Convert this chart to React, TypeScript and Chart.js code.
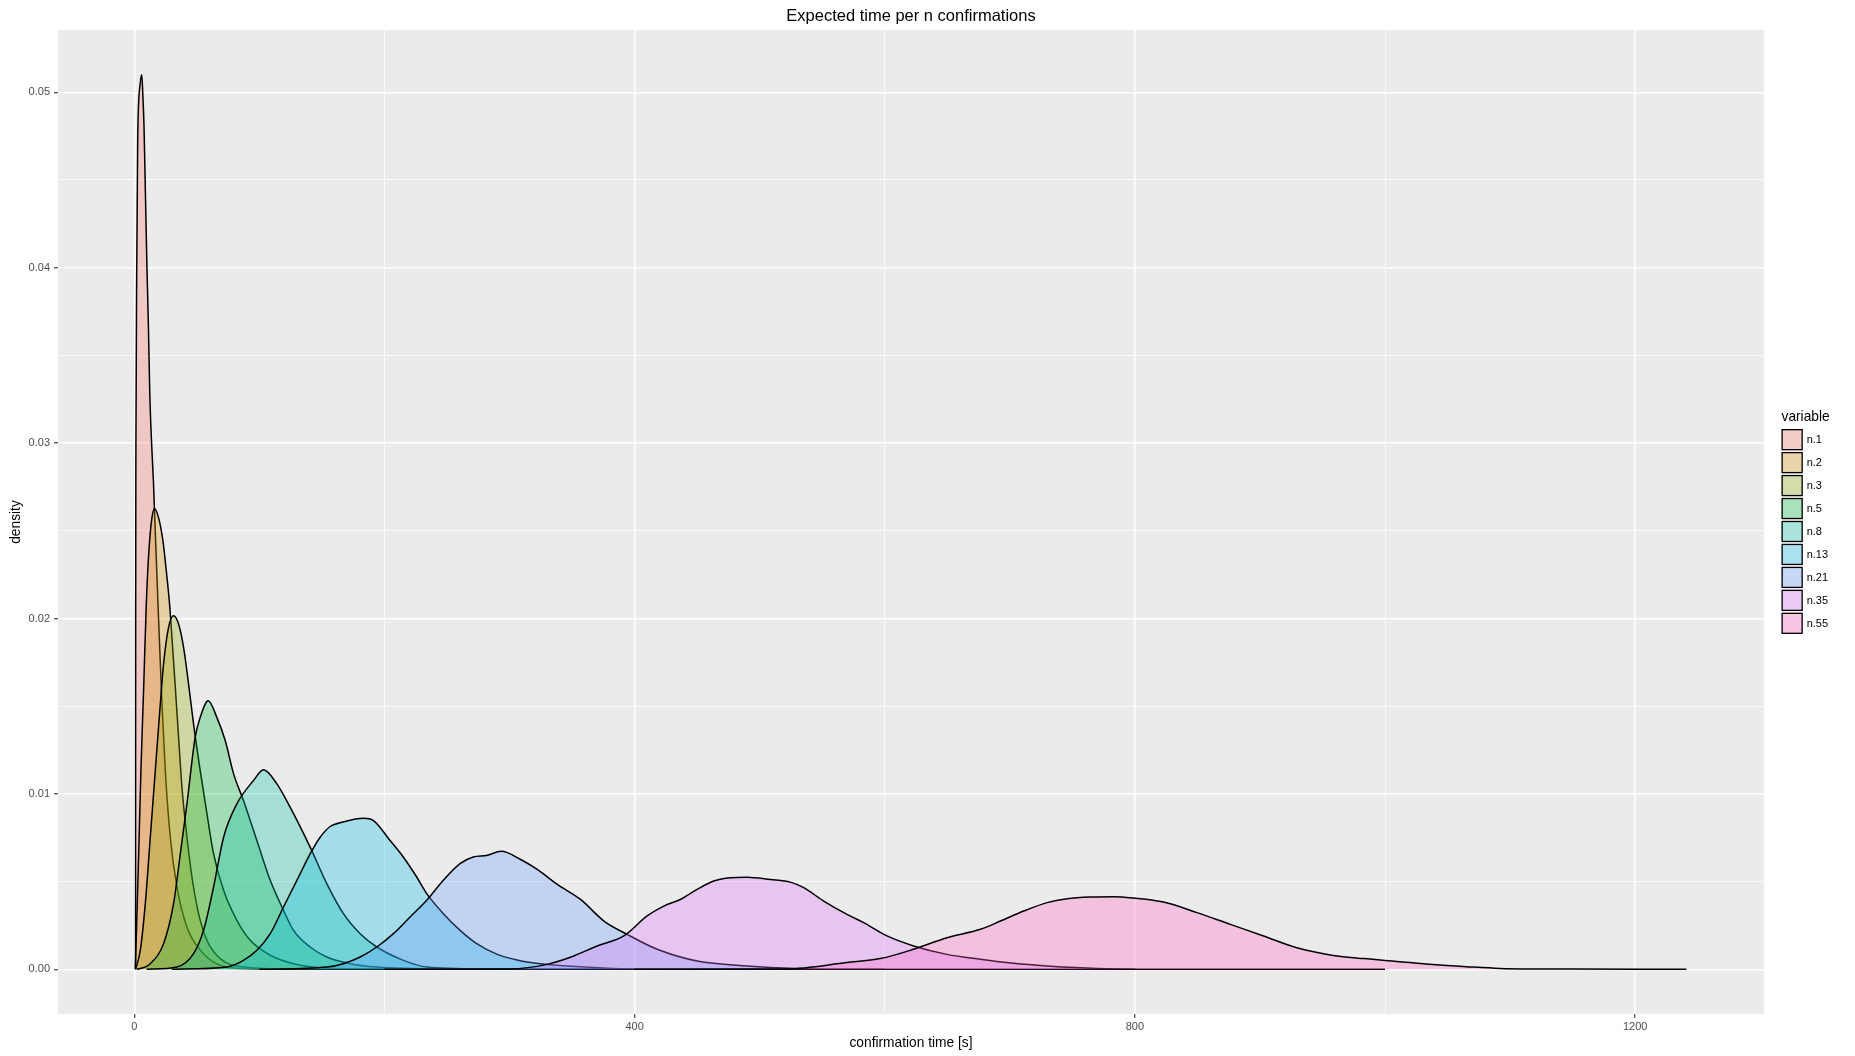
import React, { useEffect, useRef } from "react";
import { Chart, registerables } from "chart.js";

Chart.register(...registerables);

// ---- data ----
const seriesNames = ["n.1", "n.2", "n.3", "n.5", "n.8", "n.13", "n.21", "n.35", "n.55"];
const seriesColors = ["#F8766D", "#D39200", "#93AA00", "#00BA38", "#00C19F", "#00B9E3", "#619CFF", "#DB72FB", "#FF61C3"];

const n1X = [1.0, 1.1, 1.3, 2.0, 2.7, 3.2, 4.7, 6.0, 6.8, 7.8, 8.9, 10.0, 11.3, 12.4, 13.7, 15.3, 17.0, 19.4, 22.1, 24.8, 28.8, 34.1, 42.1, 52.7, 66, 87, 120, 200];
const n1Y = [0, 0.020, 0.030, 0.0404, 0.0470, 0.0489, 0.0505, 0.0510, 0.0499, 0.0480, 0.0442, 0.0404, 0.0366, 0.0328, 0.0302, 0.0278, 0.0245, 0.0200, 0.0152, 0.0113, 0.0075, 0.0047, 0.0024, 0.0011, 0.0003, 0.00004, 0, 0];

const n2X = [0.8, 1.6, 3.5, 5.3, 7.5, 9.6, 11.5, 14.1, 16.2, 19.4, 22.9, 25.6, 28.2, 30.1, 32.8, 35.4, 38.1, 42.1, 46.1, 51.4, 58.1, 68.7, 87.3, 120, 250];
const n2Y = [0, 0.00184, 0.00658, 0.01133, 0.01607, 0.02082, 0.02366, 0.02575, 0.02626, 0.02575, 0.02442, 0.02271, 0.02082, 0.01892, 0.01607, 0.01323, 0.01038, 0.00753, 0.00526, 0.00317, 0.00165, 0.00061, 0.00013, 0.00002, 0];

const n3X = [1, 4.8, 8.8, 12.8, 16.8, 20.8, 23.4, 27.4, 31.4, 35.4, 39.4, 43.4, 47.4, 52.7, 58.1, 63.4, 71.4, 82, 92.7, 108.7, 127.3, 160, 300];
const n3Y = [0, 0.00108, 0.00374, 0.00753, 0.01133, 0.01512, 0.0174, 0.01949, 0.02015, 0.01968, 0.01835, 0.01626, 0.01398, 0.01133, 0.00886, 0.00658, 0.0045, 0.00279, 0.00165, 0.0008, 0.00032, 0.00005, 0];

const n5X = [2, 4.8, 12.8, 23.4, 31.4, 36.8, 42.1, 48.7, 52.7, 59.1, 66, 72.7, 79.4, 87.3, 98, 108.7, 119.3, 127.3, 140.6, 153.9, 172.6, 193.9, 250, 400];
const n5Y = [0, 0.00004, 0.00032, 0.00146, 0.00374, 0.00658, 0.00943, 0.01323, 0.01436, 0.01531, 0.01436, 0.01304, 0.01114, 0.00962, 0.00734, 0.00507, 0.00336, 0.00222, 0.00127, 0.0007, 0.00032, 0.00013, 0.00002, 0];

const n8X = [10, 34.1, 47.4, 55.4, 63.4, 71.4, 82, 95.3, 103.3, 114, 124.6, 140.6, 153.9, 167.2, 180.6, 193.9, 215.2, 233.8, 280, 500];
const n8Y = [0, 0.00013, 0.00089, 0.00222, 0.00469, 0.00753, 0.00943, 0.01076, 0.01137, 0.01057, 0.00924, 0.00696, 0.00488, 0.00317, 0.00203, 0.00127, 0.00051, 0.00013, 0.00002, 0];

const n13X = [30, 74, 87.3, 98, 108.7, 119.3, 130, 140.6, 148.6, 156.6, 167, 183.2, 191.2, 204.5, 215.2, 225.8, 233.8, 247.1, 260.5, 273.8, 290.2, 303.5, 316.8, 343.4, 383, 450, 600];
const n13Y = [0, 0.00013, 0.00051, 0.00108, 0.00203, 0.00355, 0.00507, 0.00658, 0.00753, 0.00814, 0.0084, 0.00861, 0.00848, 0.00734, 0.00639, 0.00526, 0.00431, 0.00317, 0.00222, 0.00146, 0.00085, 0.00057, 0.00038, 0.0002, 0.00005, 0, 0];

const n21X = [100, 154, 167.2, 180.6, 193.9, 207.2, 220.5, 233.8, 247.1, 260.4, 271, 281.7, 293.4, 308.9, 322.2, 338.2, 356.8, 375.5, 394.1, 418.1, 450, 490, 530, 580, 800];
const n21Y = [0, 0.00013, 0.00032, 0.0007, 0.00127, 0.00203, 0.00298, 0.00393, 0.00507, 0.00602, 0.0064, 0.00649, 0.00673, 0.00626, 0.00569, 0.00484, 0.00398, 0.00275, 0.00199, 0.00114, 0.00047, 0.00019, 0.00005, 0, 0];

const n35X = [200, 300, 330.1, 351.4, 370.1, 391.4, 410, 423.3, 436.6, 450, 463.3, 476.6, 489.9, 508.5, 524.5, 535.2, 551.2, 569.8, 583.1, 601.8, 623.1, 649.7, 676.3, 703, 729.8, 769.7, 850, 1000];
const n35Y = [0, 0.00002, 0.00028, 0.00076, 0.00133, 0.0019, 0.00304, 0.0036, 0.00398, 0.00455, 0.00503, 0.00522, 0.00525, 0.00512, 0.00497, 0.00465, 0.00389, 0.00313, 0.00266, 0.0019, 0.00133, 0.00085, 0.00057, 0.00034, 0.00019, 0.00005, 0, 0];

const n55X = [400, 521.8, 569.8, 596.5, 623.1, 649.7, 676.5, 692.5, 711.1, 729.8, 745.7, 764.4, 783, 799, 823, 849.6, 876.3, 902.9, 929.5, 956.2, 982.8, 1009.4, 1038.5, 1065, 1092, 1150, 1241];
const n55Y = [0, 0.00002, 0.00038, 0.00061, 0.00114, 0.0018, 0.00228, 0.00275, 0.00332, 0.0038, 0.00402, 0.00412, 0.00414, 0.00406, 0.00383, 0.00323, 0.00256, 0.0019, 0.00123, 0.00082, 0.00061, 0.00045, 0.00027, 0.00015, 0.00005, 0.00001, 0];

const seriesX = [n1X, n2X, n3X, n5X, n8X, n13X, n21X, n35X, n55X];
const seriesY = [n1Y, n2Y, n3Y, n5Y, n8Y, n13Y, n21Y, n35Y, n55Y];

// ticks (major labelled, minor unlabelled)
const xTickValues = [0, 200, 400, 600, 800, 1000, 1200];
const xTickLabels = ["0", "", "400", "", "800", "", "1200"];
const yTickValues = [0, 0.005, 0.01, 0.015, 0.02, 0.025, 0.03, 0.035, 0.04, 0.045, 0.05];
const yTickLabels = ["0.00", "", "0.01", "", "0.02", "", "0.03", "", "0.04", "", "0.05"];

const titleText = "Expected time per n confirmations";
const xTitle = "confirmation time [s]";
const yTitle = "density";
const legendTitle = "variable";

const X_MIN = -61;
const X_MAX = 1303;
const Y_MIN = -0.00255;
const Y_MAX = 0.05355;

const W = 1855;
const H = 1056;
const FONT = "'Liberation Sans', Arial, Helvetica, sans-serif";

function hexToRgba(hex: string, a: number) {
  const r = parseInt(hex.slice(1, 3), 16);
  const g = parseInt(hex.slice(3, 5), 16);
  const b = parseInt(hex.slice(5, 7), 16);
  return `rgba(${r},${g},${b},${a})`;
}

const ALPHA = 0.3;

const decorPlugin = {
  id: "decor",
  beforeDraw(chart: any) {
    const { ctx, chartArea } = chart;
    ctx.save();
    ctx.fillStyle = "#FFFFFF";
    ctx.fillRect(0, 0, W, H);
    ctx.fillStyle = "#EBEBEB";
    ctx.fillRect(chartArea.left, chartArea.top, chartArea.right - chartArea.left, chartArea.bottom - chartArea.top);
    ctx.restore();
  },
  afterDraw(chart: any) {
    const { ctx, chartArea } = chart;
    ctx.save();
    // title
    ctx.fillStyle = "#000000";
    ctx.font = `16.5px ${FONT}`;
    ctx.textAlign = "center";
    ctx.textBaseline = "alphabetic";
    const cx = (chartArea.left + chartArea.right) / 2;
    ctx.fillText(titleText, cx, 20.5);
    // axis titles
    ctx.font = `13.75px ${FONT}`;
    ctx.fillText(xTitle, cx, 1046.5);
    ctx.save();
    ctx.translate(19.5, (chartArea.top + chartArea.bottom) / 2);
    ctx.rotate(-Math.PI / 2);
    ctx.fillText(yTitle, 0, 0);
    ctx.restore();
    // legend
    ctx.textAlign = "left";
    ctx.textBaseline = "middle";
    ctx.font = `13.75px ${FONT}`;
    ctx.fillText(legendTitle, 1781.5, 417);
    const keyX = 1781.5;
    const keyY0 = 429;
    const pitch = 22.96;
    const ks = 21.3;
    ctx.font = `11px ${FONT}`;
    seriesNames.forEach((name, i) => {
      const y = keyY0 + i * pitch;
      ctx.fillStyle = "#F2F2F2";
      ctx.fillRect(keyX, y, ks, ks);
      ctx.fillStyle = hexToRgba(seriesColors[i], ALPHA);
      ctx.fillRect(keyX, y, ks, ks);
      ctx.strokeStyle = "#000000";
      ctx.lineWidth = 1.3;
      ctx.strokeRect(keyX + 0.65, y + 0.65, ks - 1.3, ks - 1.3);
      ctx.fillStyle = "#000000";
      ctx.fillText(name, 1806.7, y + ks / 2 + 0.5);
    });
    ctx.restore();
  },
};

export default function App() {
  const canvasRef = useRef<HTMLCanvasElement | null>(null);

  useEffect(() => {
    const canvas = canvasRef.current;
    if (!canvas) return;
    const datasets = seriesNames.map((name, i) => ({
      label: name,
      data: seriesX[i].map((x, j) => ({ x, y: seriesY[i][j] })),
      borderColor: "#000000",
      borderWidth: 1.5,
      backgroundColor: hexToRgba(seriesColors[i], ALPHA),
      fill: "origin",
      pointRadius: 0,
      pointHoverRadius: 0,
      cubicInterpolationMode: "monotone" as const,
      order: seriesNames.length - i,
    }));

    const chart = new Chart(canvas, {
      type: "line",
      data: { datasets },
      options: {
        responsive: false,
        animation: false,
        events: [],
        layout: { padding: { left: 0, top: 30, right: W - 1764, bottom: 0 } },
        plugins: {
          legend: { display: false },
          title: { display: false },
          tooltip: { enabled: false },
        },
        scales: {
          x: {
            type: "linear",
            min: X_MIN,
            max: X_MAX,
            border: { display: false },
            afterFit: (scale: any) => {
              scale.height = 42;
            },
            afterBuildTicks: (scale: any) => {
              scale.ticks = xTickValues.map((v) => ({ value: v }));
            },
            grid: {
              color: "#FFFFFF",
              lineWidth: (c: any) => (xTickLabels[c.index] ? 1.5 : 0.75),
              tickColor: (c: any) => (xTickLabels[c.index] ? "#333333" : "rgba(0,0,0,0)"),
              tickLength: 4,
              tickWidth: 1.1,
              drawTicks: true,
            },
            ticks: {
              autoSkip: false,
              maxRotation: 0,
              padding: 2,
              color: "#4D4D4D",
              font: { family: FONT, size: 11 },
              callback: (_v: any, i: number) => xTickLabels[i],
            },
          },
          y: {
            type: "linear",
            min: Y_MIN,
            max: Y_MAX,
            border: { display: false },
            afterFit: (scale: any) => {
              scale.width = 58;
            },
            afterBuildTicks: (scale: any) => {
              scale.ticks = yTickValues.map((v) => ({ value: v }));
            },
            grid: {
              color: "#FFFFFF",
              lineWidth: (c: any) => (yTickLabels[c.index] ? 1.5 : 0.75),
              tickColor: (c: any) => (yTickLabels[c.index] ? "#333333" : "rgba(0,0,0,0)"),
              tickLength: 4,
              tickWidth: 1.1,
              drawTicks: true,
            },
            ticks: {
              autoSkip: false,
              padding: 4,
              color: "#4D4D4D",
              font: { family: FONT, size: 11 },
              callback: (_v: any, i: number) => yTickLabels[i],
            },
          },
        },
      },
      plugins: [decorPlugin],
    });
    return () => chart.destroy();
  }, []);

  return (
    <div style={{ position: "absolute", left: 0, top: 0, width: W, height: H, background: "#fff" }}>
      <canvas ref={canvasRef} width={W} height={H} style={{ width: W, height: H, display: "block" }} />
    </div>
  );
}
